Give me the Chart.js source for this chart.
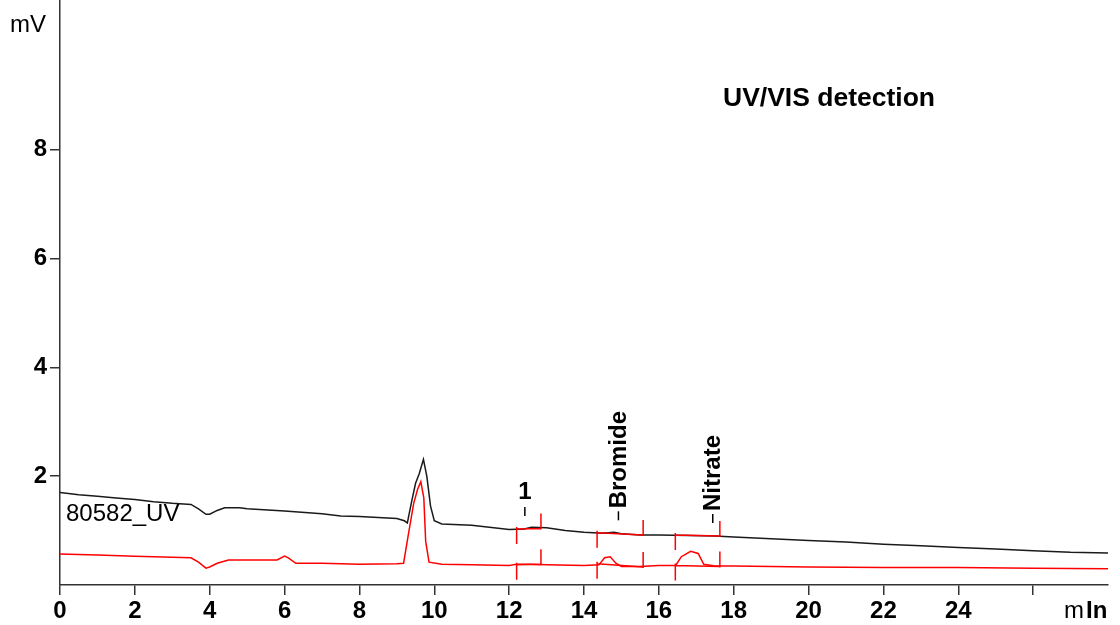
<!DOCTYPE html>
<html>
<head>
<meta charset="utf-8">
<script src="https://cdn.jsdelivr.net/npm/chart.js@4.4.1/dist/chart.umd.min.js"></script>
<style>
  html, body { margin: 0; padding: 0; background: #fff; }
  canvas { display: block; }
</style>
</head>
<body>
<canvas id="chromcanvas" width="1120" height="625"></canvas>
<script>
// black trace (upper trace), time in min, signal in mV
const blackTime = [0, 0.5, 1, 1.5, 2, 2.5, 3, 3.5, 3.7, 3.9, 4.0, 4.2, 4.4, 4.8, 5, 6, 7, 7.5, 8, 8.5, 9, 9.2, 9.28,
  9.4, 9.5, 9.6, 9.71, 9.8, 9.9, 10.0, 10.2, 11, 12, 12.4, 12.6, 13, 13.5, 14, 14.5, 14.8, 15, 15.5, 16, 16.8,
  17.5, 18, 19, 20, 21, 22, 23, 24, 25, 26, 27, 28];
const blackMv = [1.70, 1.66, 1.63, 1.60, 1.57, 1.53, 1.50, 1.48, 1.40, 1.30, 1.30, 1.37, 1.42, 1.42, 1.40, 1.36, 1.31, 1.27, 1.26, 1.24, 1.22, 1.18, 1.14,
  1.55, 1.87, 2.05, 2.31, 2.00, 1.45, 1.18, 1.12, 1.10, 1.02, 1.03, 1.06, 1.05, 1.00, 0.97, 0.95, 0.97, 0.94, 0.92, 0.92, 0.91,
  0.90, 0.88, 0.85, 0.82, 0.79, 0.75, 0.72, 0.69, 0.66, 0.63, 0.60, 0.59];

// red trace (UV/VIS)
const redTime = [0, 1, 2, 3, 3.5, 3.7, 3.9, 4.0, 4.2, 4.5, 5, 5.8, 6.0, 6.1, 6.3, 7, 8, 9.0, 9.18,
  9.3, 9.45, 9.55, 9.64, 9.72, 9.77, 9.86, 10.2, 11, 12, 12.2, 12.6, 13, 14, 14.4, 14.55, 14.7, 14.85, 15.0, 15.5,
  16, 16.45, 16.6, 16.85, 17.05, 17.2, 17.5, 18, 20, 22, 24, 26, 28];
const redMv = [0.57, 0.55, 0.53, 0.51, 0.50, 0.42, 0.31, 0.33, 0.40, 0.46, 0.46, 0.46, 0.53, 0.50, 0.40, 0.40, 0.38, 0.39, 0.40,
  0.90, 1.50, 1.75, 1.90, 1.60, 0.80, 0.42, 0.38, 0.37, 0.36, 0.38, 0.38, 0.37, 0.36, 0.37, 0.50, 0.52, 0.40, 0.34, 0.34,
  0.36, 0.36, 0.52, 0.62, 0.58, 0.38, 0.35, 0.35, 0.33, 0.32, 0.32, 0.31, 0.30];

// integrated peaks
const peakNames = ['1', 'Bromide', 'Nitrate'];
const peakApex = [12.42, 14.92, 17.44];
const peakApexMv = [1.03, 0.95, 0.90];
const peakStart = [12.2, 14.35, 16.44];
const peakEnd = [12.85, 15.58, 17.63];
const blackBaseStart = [1.03, 0.96, 0.92];
const blackBaseEnd = [1.04, 0.92, 0.90];
const redBaseStart = [0.37, 0.39, 0.36];
const redBaseEnd = [0.38, 0.33, 0.34];

const timeTicks = [0, 2, 4, 6, 8, 10, 12, 14, 16, 18, 20, 22, 24, 26];
const timeLabels = ['0', '2', '4', '6', '8', '10', '12', '14', '16', '18', '20', '22', '24', ''];
const mvTicks = [2, 4, 6, 8];

function pairs(xs, ys) {
  let data = [];
  for (var i = 0; i < xs.length; i++) {
    data.push({x: xs[i], y: ys[i]});
  }
  return data;
}

const FONT = '"Liberation Sans", Arial, sans-serif';

const overlay = {
  id: 'overlay',
  afterDatasetsDraw(chart) {
    const c = chart.ctx;
    const xs = chart.scales.x;
    const ys = chart.scales.y;
    c.save();

    // integration baselines and marks
    c.strokeStyle = '#ff0000';
    c.lineWidth = 1.5;
    const baseSets = [[blackBaseStart, blackBaseEnd], [redBaseStart, redBaseEnd]];
    baseSets.forEach(function (b) {
      for (let i = 0; i < peakStart.length; i++) {
        const x1 = xs.getPixelForValue(peakStart[i]);
        const x2 = xs.getPixelForValue(peakEnd[i]);
        const y1 = ys.getPixelForValue(b[0][i]);
        const y2 = ys.getPixelForValue(b[1][i]);
        c.beginPath();
        c.moveTo(x1, y1); c.lineTo(x2, y2);
        c.moveTo(x1, y1 - 2); c.lineTo(x1, y1 + 15);
        c.moveTo(x2, y2 + 1); c.lineTo(x2, y2 - 15);
        c.stroke();
      }
    });

    // peak labels
    c.fillStyle = '#000';
    c.strokeStyle = '#000';
    c.lineWidth = 1.5;
    c.font = 'bold 24px ' + FONT;
    for (let i = 0; i < peakNames.length; i++) {
      const x = xs.getPixelForValue(peakApex[i]);
      const yb = ys.getPixelForValue(peakApexMv[i]) - 13;
      c.beginPath();
      c.moveTo(x, yb); c.lineTo(x, yb - 9);
      c.stroke();
      if (i === 0) {
        c.textAlign = 'center';
        c.textBaseline = 'alphabetic';
        c.fillText(peakNames[i], x, yb - 17);
      } else {
        c.save();
        c.translate(x, yb - 12);
        c.rotate(-Math.PI / 2);
        c.textAlign = 'left';
        c.textBaseline = 'middle';
        c.fillText(peakNames[i], 0, 1);
        c.restore();
      }
    }

    // texts
    c.textAlign = 'left';
    c.textBaseline = 'alphabetic';
    c.font = 'bold 26.5px ' + FONT;
    c.fillText('UV/VIS detection', 723, 106);
    c.font = '24px ' + FONT;
    c.fillText('80582_UV', 66, 521);
    c.fillText('mV', 10, 32);
    c.fillText('m', 1064, 618);
    c.font = 'bold 24px ' + FONT;
    c.fillText('In', 1086, 618);
    c.restore();
  }
};

const chromConfig = {
  type: 'line',
  data: {
    datasets: [{
      label: '80582_UV',
      data: pairs(blackTime, blackMv),
      borderColor: '#1a1a1a',
      borderWidth: 1.5,
    }, {
      label: 'UV/VIS',
      data: pairs(redTime, redMv),
      borderColor: '#ff0000',
      borderWidth: 1.5,
    }]
  },
  options: {
    responsive: false,
    devicePixelRatio: 1,
    animation: false,
    layout: { padding: { top: 0, right: 12, bottom: 0, left: 0 } },
    elements: {
      line: { tension: 0 },
      point: { radius: 0 }
    },
    scales: {
      x: {
        type: 'linear',
        min: 0,
        max: 28,
        afterBuildTicks: function (s) { s.ticks = timeTicks.map(v => ({value: v})); },
        afterFit: function (s) { s.height = 40; s.paddingLeft = 0; s.paddingRight = 0; },
        grid: {
          drawOnChartArea: false,
          drawTicks: true,
          tickLength: 10,
          color: '#333',
          lineWidth: 1.5,
        },
        border: { display: true, color: '#333', width: 1.5 },
        ticks: {
          autoSkip: false,
          maxRotation: 0,
          padding: 2,
          color: '#000',
          font: { family: FONT, size: 24, weight: 'bold' },
          callback: function (v) { return timeLabels[timeTicks.indexOf(v)]; }
        }
      },
      y: {
        type: 'linear',
        min: 0,
        max: 10.75,
        afterBuildTicks: function (s) { s.ticks = mvTicks.map(v => ({value: v})); },
        afterFit: function (s) { s.width = 60; s.paddingTop = 0; s.paddingBottom = 0; },
        grid: {
          drawOnChartArea: false,
          drawTicks: true,
          tickLength: 10,
          color: '#333',
          lineWidth: 1.5,
        },
        border: { display: true, color: '#333', width: 1.5 },
        ticks: {
          padding: 3,
          color: '#000',
          font: { family: FONT, size: 24, weight: 'bold' },
        }
      }
    },
    plugins: {
      legend: { display: false },
      tooltip: { enabled: false }
    }
  },
  plugins: [overlay]
};

const ctx = document.getElementById('chromcanvas').getContext('2d');
const chromChart = new Chart(ctx, chromConfig);
</script>
</body>
</html>
